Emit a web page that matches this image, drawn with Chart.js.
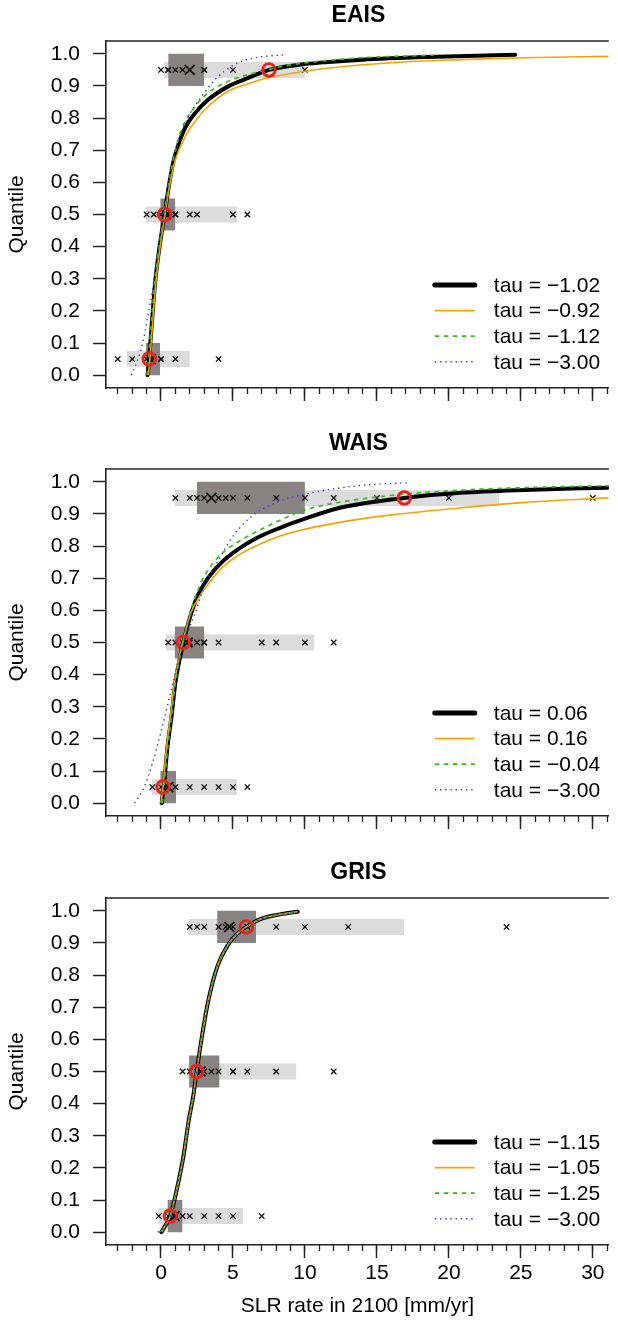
<!DOCTYPE html>
<html>
<head>
<meta charset="utf-8">
<title>SLR rate quantiles</title>
<script src="https://cdn.jsdelivr.net/npm/chart.js@4.4.1/dist/chart.umd.min.js"></script>
<style>
  html, body { margin: 0; padding: 0; background: #fff; }
  canvas { display: block; }
</style>
</head>
<body>
<canvas id="eais" width="618" height="428"></canvas>
<canvas id="wais" width="618" height="429"></canvas>
<canvas id="gris" width="618" height="463"></canvas>
<script>
// quantile levels of the expert rows
const quantiles = [0.05, 0.5, 0.95];

// ---- EAIS ----
const eaisExperts05 = [-3, -2, -1, -1, -0.5, 0, 0, 1, 4];
const eaisExperts50 = [-1, -0.5, 0, 0, 0.5, 0.5, 1, 1, 2, 2.5, 5, 6];
const eaisExperts95 = [0, 0.5, 0.5, 1, 1.5, 3, 3, 5, 10];
const eaisMeans = [-0.7, 0.35, 2];
const eaisRange = [[-2.4, 2.0], [-1.05, 5.3], [0.2, 10.0]];
const eaisCore = [[-1.05, -0.05], [-0.05, 1.0], [0.5, 3.0]];
const eaisFit = [-0.82, 0.25, 7.5];
const eaisTau = ['\u22121.02', '\u22120.92', '\u22121.12', '\u22123.00'];
const eaisBlack = [[-0.93,0.0],[-0.82,0.05],[-0.74,0.10],[-0.57,0.20],[-0.38,0.30],[-0.10,0.40],[0.25,0.50],[0.55,0.59],[0.89,0.67],[1.23,0.72],[1.68,0.77],[2.36,0.815],[3.27,0.857],[4.64,0.898],[6.0,0.924],[7.5,0.95],[9.6,0.966],[11.4,0.974],[14.0,0.982],[18.5,0.990],[24.6,0.997]];
const eaisOrange = [[-0.88,0.0],[-0.77,0.05],[-0.69,0.10],[-0.52,0.20],[-0.33,0.30],[-0.06,0.40],[0.28,0.50],[0.60,0.59],[1.0,0.67],[1.68,0.742],[2.36,0.789],[3.27,0.836],[4.64,0.883],[6.0,0.906],[7.59,0.927],[9.86,0.945],[11.7,0.956],[16.2,0.973],[20.8,0.982],[25.3,0.988],[31.1,0.992]];
const eaisGreen = [[-0.97,0.0],[-0.86,0.05],[-0.78,0.10],[-0.60,0.20],[-0.41,0.30],[-0.13,0.40],[0.23,0.50],[0.52,0.59],[0.85,0.67],[1.2,0.735],[1.68,0.789],[2.36,0.836],[3.27,0.878],[4.64,0.914],[6.9,0.945],[9.2,0.967],[11.45,0.979],[14.0,0.988],[18.95,0.996]];
const eaisBlue = [[-2.07,0.0],[-1.72,0.036],[-1.27,0.10],[-0.93,0.18],[-0.59,0.265],[-0.32,0.35],[-0.05,0.44],[0.27,0.52],[0.62,0.62],[1.23,0.732],[1.91,0.805],[2.82,0.867],[3.73,0.919],[5.09,0.966],[6.45,0.987],[8.5,0.997]];

// ---- WAIS ----
const waisExperts05 = [-0.6, 0, 0.5, 0.5, 1, 2, 3, 4, 5, 6];
const waisExperts50 = [0.5, 1, 1.5, 2, 2.5, 3, 3, 4, 7, 8, 10, 12];
const waisExperts95 = [1, 2, 2.5, 3, 4, 4.5, 5, 6, 8, 10, 12, 15, 20, 30];
const waisMeans = [0.5, 1.85, 3.5];
const waisRange = [[-0.63, 5.3], [0.32, 10.66], [0.95, 23.5]];
const waisCore = [[-0.05, 1.05], [0.95, 3.0], [2.5, 10.0]];
const waisFit = [0.14, 1.55, 16.9];
const waisTau = ['0.06', '0.16', '\u22120.04', '\u22123.00'];
const waisBlack = [[0.05,0.0],[0.2,0.052],[0.43,0.166],[0.73,0.27],[1.0,0.374],[1.34,0.457],[1.57,0.503],[2.14,0.597],[2.59,0.649],[3.27,0.701],[4.18,0.748],[5.32,0.789],[6.68,0.826],[8.27,0.857],[9.86,0.883],[12.5,0.92],[16.9,0.95],[20.8,0.966],[25.3,0.975],[31.1,0.982]];
const waisOrange = [[0.0,0.0],[0.14,0.05],[0.37,0.166],[0.66,0.27],[0.93,0.374],[1.28,0.457],[1.52,0.503],[2.1,0.595],[2.6,0.637],[3.05,0.668],[4.18,0.73],[5.32,0.77],[7.59,0.82],[9.4,0.846],[12.8,0.877],[16.2,0.898],[20.8,0.919],[25.3,0.936],[31.1,0.95]];
const waisGreen = [[0.08,0.0],[0.22,0.052],[0.45,0.166],[0.74,0.27],[1.0,0.374],[1.32,0.457],[1.55,0.503],[2.1,0.605],[2.59,0.665],[3.05,0.71],[4.18,0.775],[5.32,0.812],[7.59,0.866],[9.4,0.903],[10.77,0.922],[15.0,0.953],[20.8,0.974],[25.3,0.982],[31.1,0.988]];
const waisBlue = [[-1.84,0.0],[-1.27,0.04],[-0.59,0.125],[-0.02,0.218],[0.43,0.30],[0.89,0.384],[1.23,0.446],[1.75,0.52],[2.36,0.59],[3.05,0.68],[3.95,0.753],[5.09,0.836],[6.45,0.898],[8.27,0.94],[9.86,0.96],[11.7,0.976],[13.95,0.989],[17.1,0.997]];

// ---- GRIS ----
const grisExperts05 = [-0.15, 0.5, 1, 1.5, 2, 3, 4, 5, 7];
const grisExperts50 = [1.5, 2, 2.5, 3, 3.5, 4, 5, 5, 6, 8, 12];
const grisExperts95 = [2, 2.5, 3, 4, 4.5, 5, 6, 8, 10, 13, 24];
const grisMeans = [0.95, 2.75, 4.75];
const grisRange = [[-0.18, 5.7], [1.85, 9.4], [1.9, 16.9]];
const grisCore = [[0.45, 1.5], [1.95, 4.07], [3.9, 6.6]];
const grisFit = [0.66, 2.48, 5.93];
const grisTau = ['\u22121.15', '\u22121.05', '\u22121.25', '\u22123.00'];
const grisBlack = [[0.02,0.0],[0.3,0.02],[0.66,0.052],[1.11,0.135],[1.57,0.239],[1.91,0.343],[2.25,0.426],[2.48,0.5],[2.82,0.602],[3.27,0.717],[3.95,0.831],[4.64,0.893],[5.32,0.93],[5.93,0.95],[6.9,0.974],[8.27,0.989],[9.5,0.997]];
const grisOrange = [[0.02,0.0],[0.3,0.02],[0.66,0.052],[1.11,0.135],[1.57,0.239],[1.91,0.343],[2.25,0.426],[2.48,0.5],[2.82,0.602],[3.27,0.717],[3.95,0.831],[4.64,0.893],[5.32,0.93],[5.93,0.95],[6.9,0.974],[8.27,0.989],[9.5,0.997]];
const grisGreen = [[0.02,0.0],[0.3,0.02],[0.66,0.052],[1.11,0.135],[1.57,0.239],[1.91,0.343],[2.25,0.426],[2.48,0.5],[2.82,0.602],[3.27,0.717],[3.95,0.831],[4.64,0.893],[5.32,0.93],[5.93,0.95],[6.9,0.974],[8.27,0.989],[9.5,0.997]];
const grisBlue = [[-0.25,0.0],[0.05,0.008],[0.66,0.052],[1.11,0.135],[1.57,0.239],[1.91,0.343],[2.25,0.426],[2.48,0.5],[2.82,0.602],[3.27,0.717],[3.95,0.831],[4.64,0.893],[5.32,0.93],[5.93,0.95],[6.9,0.974],[8.27,0.989],[9.5,0.997]];

// shared axis settings
const X_MIN = -3.82, X_MAX = 31.11;
const Y_MIN = -0.04, Y_MAX = 1.04;
const RANGE_HALF = 0.025;   // half height of the light band
const CORE_HALF = 0.05;     // half height of the dark box
const FONT = '"Liberation Sans", Arial, Helvetica, sans-serif';

Chart.defaults.font.family = FONT;
Chart.defaults.font.size = 21;
Chart.defaults.color = '#000';

const curveStyles = [
  { color: '#000000', width: 4, dash: [], cap: 'round', order: 13 },
  { color: '#f7a400', width: 1.6, dash: [], cap: 'butt', order: 12 },
  { color: '#3db81f', width: 1.7, dash: [4.5, 4.5], cap: 'butt', order: 11 },
  { color: '#3d3fd1', width: 1.4, dash: [1.4, 3.8], cap: 'butt', order: 10 }
];

function toPoints(pairs) {
  return pairs.map(p => ({ x: p[0], y: p[1] }));
}

function bandSet(span, q, half, color, order) {
  return {
    data: [{ x: span[0], y: q + half }, { x: span[1], y: q + half }],
    fill: { value: q - half },
    backgroundColor: color,
    borderColor: 'rgba(0,0,0,0)',
    borderWidth: 0,
    pointRadius: 0,
    order: order
  };
}

function buildDatasets(p) {
  let sets = [];
  quantiles.forEach((q, i) => {
    sets.push(bandSet(p.range[i], q, RANGE_HALF, '#dcdcdc', 31));
    sets.push(bandSet(p.core[i], q, CORE_HALF, '#898383', 30));
  });

  let marks = [];
  p.experts.forEach((row, i) => {
    row.forEach(v => marks.push({ x: v, y: quantiles[i] }));
  });
  sets.push({
    data: marks, showLine: false,
    pointStyle: 'crossRot', pointRadius: 3.8,
    pointBorderColor: '#111', pointBorderWidth: 1.35,
    order: 20
  });
  sets.push({
    data: p.means.map((v, i) => ({ x: v, y: quantiles[i] })), showLine: false,
    pointStyle: 'crossRot', pointRadius: 7,
    pointBorderColor: '#111', pointBorderWidth: 1.8,
    order: 20
  });

  p.curves.forEach((c, i) => {
    const s = curveStyles[i];
    sets.push({
      label: 'tau = ' + p.tau[i],
      data: toPoints(c),
      borderColor: s.color,
      borderWidth: s.width,
      borderDash: s.dash,
      borderCapStyle: s.cap,
      pointRadius: 0,
      fill: false,
      cubicInterpolationMode: 'monotone',
      order: s.order
    });
  });

  sets.push({
    data: p.fit.map((v, i) => ({ x: v, y: quantiles[i] })), showLine: false,
    pointStyle: 'circle', pointRadius: 6.3,
    pointBorderColor: '#e3261b', pointBorderWidth: 2.9,
    pointBackgroundColor: 'rgba(0,0,0,0)',
    order: 0
  });
  return sets;
}

// top frame line, panel title and legend
const framePlugin = {
  id: 'frame',
  afterDraw(chart, args, opts) {
    const ctx = chart.ctx;
    const a = chart.chartArea;
    ctx.save();
    ctx.strokeStyle = '#222';
    ctx.lineWidth = 1.5;
    ctx.beginPath();
    ctx.moveTo(a.left, a.top);
    ctx.lineTo(a.right, a.top);
    ctx.stroke();

    ctx.fillStyle = '#000';
    ctx.font = 'bold 23px ' + FONT;
    ctx.textAlign = 'center';
    ctx.textBaseline = 'middle';
    ctx.fillText(opts.title, (a.left + a.right) / 2 + 1, 16);

    ctx.font = '21px ' + FONT;
    ctx.textAlign = 'left';
    const curves = chart.data.datasets.filter(d => d.label);
    curves.forEach((d, i) => {
      const y = a.top + 244 + i * 25.6;
      ctx.strokeStyle = d.borderColor;
      ctx.lineWidth = i === 0 ? 5 : d.borderWidth;
      ctx.lineCap = d.borderCapStyle;
      ctx.setLineDash(d.borderDash);
      ctx.beginPath();
      ctx.moveTo(a.right - 174, y);
      ctx.lineTo(a.right - 134, y);
      ctx.stroke();
      ctx.setLineDash([]);
      ctx.fillText(d.label, a.right - 115, y + 1);
    });
    ctx.restore();
  }
};

function makeChart(id, p, showX) {
  const canvas = document.getElementById(id);
  const xHeight = canvas.height - 388;
  return new Chart(canvas, {
    type: 'line',
    data: { datasets: buildDatasets(p) },
    options: {
      responsive: false,
      animation: false,
      events: [],
      devicePixelRatio: 1,
      layout: { padding: { top: 41, left: 0, right: 0, bottom: 0 } },
      plugins: {
        legend: { display: false },
        tooltip: { enabled: false },
        frame: { title: p.title }
      },
      scales: {
        x: {
          type: 'linear', position: 'bottom', weight: 1,
          min: X_MIN, max: X_MAX,
          afterFit: s => { s.height = xHeight; },
          grid: { drawOnChartArea: false, tickLength: 13, tickColor: '#222', tickWidth: 1.5 },
          border: { display: true, color: '#222', width: 1.6 },
          ticks: {
            display: showX, stepSize: 5, includeBounds: false, autoSkip: false,
            maxRotation: 0, padding: 3, font: { size: 21 }
          },
          title: {
            display: showX, text: 'SLR rate in 2100 [mm/yr]',
            font: { size: 21 }, padding: { top: 0, bottom: 1.5 }
          }
        },
        xMinor: {
          type: 'linear', position: 'bottom', weight: 0,
          min: X_MIN, max: X_MAX,
          afterFit: s => { s.height = 0; },
          grid: { drawOnChartArea: false, tickLength: 6, tickColor: '#222', tickWidth: 1.3 },
          border: { display: false },
          ticks: { display: false, stepSize: 1, includeBounds: false, autoSkip: false }
        },
        y: {
          type: 'linear', position: 'left',
          min: Y_MIN, max: Y_MAX,
          afterFit: s => { s.width = 106; },
          grid: { drawOnChartArea: false, tickLength: 13, tickColor: '#222', tickWidth: 1.5 },
          border: { display: true, color: '#222', width: 1.6 },
          ticks: {
            stepSize: 0.1, includeBounds: false, autoSkip: false, padding: 13,
            font: { size: 21 },
            callback: v => v.toFixed(1)
          },
          title: { display: true, text: 'Quantile', font: { size: 21 }, padding: { top: 5, bottom: 0 } }
        }
      }
    },
    plugins: [framePlugin]
  });
}

makeChart('eais', {
  title: 'EAIS',
  experts: [eaisExperts05, eaisExperts50, eaisExperts95],
  means: eaisMeans, range: eaisRange, core: eaisCore, fit: eaisFit, tau: eaisTau,
  curves: [eaisBlack, eaisOrange, eaisGreen, eaisBlue]
}, false);

makeChart('wais', {
  title: 'WAIS',
  experts: [waisExperts05, waisExperts50, waisExperts95],
  means: waisMeans, range: waisRange, core: waisCore, fit: waisFit, tau: waisTau,
  curves: [waisBlack, waisOrange, waisGreen, waisBlue]
}, false);

makeChart('gris', {
  title: 'GRIS',
  experts: [grisExperts05, grisExperts50, grisExperts95],
  means: grisMeans, range: grisRange, core: grisCore, fit: grisFit, tau: grisTau,
  curves: [grisBlack, grisOrange, grisGreen, grisBlue]
}, true);
</script>
</body>
</html>
